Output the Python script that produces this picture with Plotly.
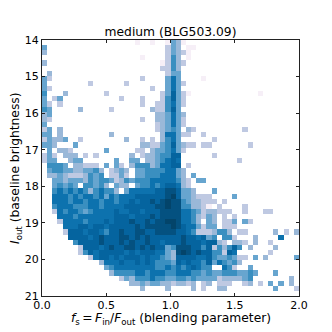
import plotly.graph_objects as go

title = "medium (BLG503.09)"
x_label = "<i>f</i><sub>s</sub>\u2009=\u2009<i>F</i><sub>in</sub>/<i>F</i><sub>out</sub> (blending parameter)"
y_label = "<i>I</i><sub>out</sub> (baseline brightness)"
x_ticks = [0.0, 0.5, 1.0, 1.5, 2.0]
y_ticks = [14, 15, 16, 17, 18, 19, 20, 21]
x_centers = [0.02 + 0.04 * i for i in range(50)]
y_centers = [14.07 + 0.14 * i for i in range(50)]

# density level per 2D histogram cell, top row first: columns 0-24, then 25-49
rows_left = [
    "0000000000000000001001001", "4000000000000000000000002", "3000000000000000000000002",
    "0000000000000000000100002", "3000000000000000000000012", "0000000000000000000000022",
    "0300000000000000000000002", "4200000000000000000200004", "4000000002000000200000004",
    "4200000000000000000002004", "5000300000002000000000024", "4024000000000002000200025",
    "4202000000000000000200225", "5400000300000200000003225", "3400000000000000000000334",
    "3200000000000000000200334", "4000000000000000000000234", "2403000000000000000000234",
    "4403000000000300000000036", "2433400200000000300202035", "4430004000000000000332245",
    "0403320000004000002203445", "2420333020200000030233455", "2440034400000040044033456",
    "0555403322204042035553466", "0455443344530234304455556", "0334322235450224204455566",
    "0044344435455423545556666", "0045454055453043304556567", "0056565653565530466666778",
    "0066656566564656667777778", "0066656656656656676778789", "0056665556656666777777889",
    "0026566545666676677677788", "0006665666666677767778788", "0002666656667677787787889",
    "0000666776776777778788888", "0000277767765778778877888", "0000077776787778878787777",
    "0000005777787778787787767", "0000000277767877887878774", "0000000257677777676777664",
    "0000000002677676777676654", "0000000000036667667676555", "0000000000004566666666556",
    "0000000000000355556656665", "0000000000000002435556554", "0000000000000000033434433",
    "0000000000000000000300003", "0000000000000000000000000",
]
rows_right = [
    "431", "43011", "4321", "5301", "532", "53", "44", "6400001", "642", "64",
    "7421" + "0000000000000" + "1", "742", "642", "74", "643", "642", "642",
    "54032" + "000000000" + "2", "6422002", "64" + "000000" + "2",
    "74322022" + "0000000" + "2", "642", "77" + "000000" + "2",
    "76" + "00000000000" + "2", "7702", "643", "64304", "6532044", "7632", "874430004",
    "97443222" + "0000" + "4", "88543322202", "8855332102" + "0000" + "2",
    "886654233222" + "00" + "2" + "000" + "22", "8866532430202", "9866530430224042",
    "9876642440222", "8776522235" + "53" + "0" + "22" + "00000" + "3" + "0" + "2" + "0" + "3",
    "7787767450552000300006", "77877767732033203002", "588877572535750300003",
    "38987877552760000002", "3777766754454220403000004", "47676657465453",
    "5656765500652004", "56665545445554454" + "0004",
    "4554544442333345" + "0000000" + "3", "233230230222002302040403",
    "0000302003300000000040002", "",
]

z = []
for left, right in zip(rows_left, rows_right):
    cells = (left + right).ljust(50, "0")
    z.append([None if c == "0" else int(c) for c in cells])

level_colors = ["#f6eff7", "#bfc9e2", "#9ab8d8", "#67a5cf", "#3a8fc0",
                "#0d72ae", "#05649f", "#045180", "#03446a"]
scale = []
for i, col in enumerate(level_colors):
    scale.append([i / 9, col])
    scale.append([(i + 1) / 9, col])

fig = go.Figure(go.Heatmap(x=x_centers, y=y_centers, z=z, zmin=0.5, zmax=9.5,
                           colorscale=scale, showscale=False, hoverongaps=False))
axis_style = dict(showline=True, linecolor="#222222", linewidth=1, mirror="ticks",
                  ticks="inside", ticklen=3, tickwidth=1, tickcolor="#222222",
                  showgrid=False, zeroline=False, automargin=False,
                  tickfont=dict(size=11, color="black"))
fig.update_xaxes(range=[0, 2], tickvals=x_ticks, ticktext=["0.0", "0.5", "1.0", "1.5", "2.0"],
                 ticklabelstandoff=-1, **axis_style)
fig.update_yaxes(range=[21, 14], tickvals=y_ticks, **axis_style)
fig.update_layout(width=324, height=324, autosize=False, plot_bgcolor="white", paper_bgcolor="white",
                  font=dict(family="DejaVu Sans", color="black"),
                  margin=dict(l=34, r=33, t=32, b=36),
                  title=dict(text=title, x=0.5, xanchor="center", xref="paper",
                             y=1, yref="paper", yanchor="bottom", pad=dict(b=4),
                             font=dict(size=12.3, color="black")))
fig.add_annotation(text=x_label, xref="paper", yref="paper", x=0.5, y=0, xanchor="center",
                   yanchor="top", yshift=-14, borderpad=0, showarrow=False,
                   font=dict(size=12.3, color="black"))
fig.add_annotation(text=y_label, xref="paper", yref="paper", x=0, y=0.5, xanchor="right",
                   yanchor="middle", xshift=-16, textangle=-90, showarrow=False,
                   font=dict(size=12.3, color="black"))
fig.write_html("out.html")
